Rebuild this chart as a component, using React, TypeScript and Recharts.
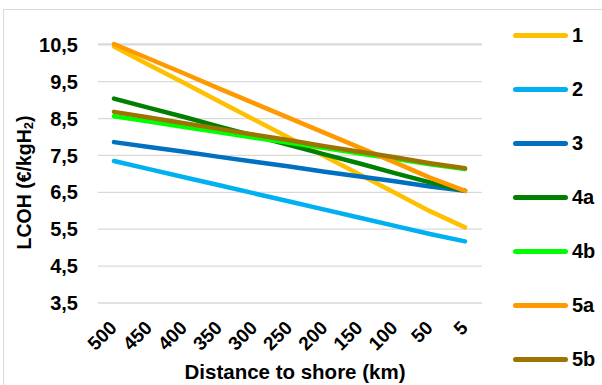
import { LineChart, Line, XAxis, YAxis, CartesianGrid, Label } from 'recharts';

// distance to shore in km, read left to right
const distances = ['500', '450', '400', '350', '300', '250', '200', '150', '100', '50', '5'];

// LCOH values (€/kgH2)
const case1 = [10.45, 9.95, 9.46, 8.96, 8.47, 7.97, 7.48, 6.98, 6.49, 5.99, 5.55];
const case2 = [7.35, 7.13, 6.91, 6.69, 6.47, 6.25, 6.03, 5.81, 5.59, 5.37, 5.17];
const case3 = [7.86, 7.73, 7.6, 7.46, 7.33, 7.2, 7.06, 6.93, 6.8, 6.66, 6.54];
const case4a = [9.04, 8.79, 8.54, 8.28, 8.03, 7.78, 7.53, 7.28, 7.02, 6.77, 6.54];
const case4b = [8.56, 8.42, 8.27, 8.13, 7.98, 7.84, 7.7, 7.55, 7.41, 7.26, 7.13];
const case5a = [10.52, 10.12, 9.72, 9.31, 8.91, 8.51, 8.11, 7.71, 7.31, 6.9, 6.54];
const case5b = [8.68, 8.53, 8.37, 8.22, 8.06, 7.91, 7.75, 7.6, 7.45, 7.29, 7.15];

const yTicks = [3.5, 4.5, 5.5, 6.5, 7.5, 8.5, 9.5, 10.5];

const series = [
  { key: 's1', name: '1', color: '#FFC000', values: case1 },
  { key: 's2', name: '2', color: '#00B0F0', values: case2 },
  { key: 's3', name: '3', color: '#0070C0', values: case3 },
  { key: 's4a', name: '4a', color: '#008000', values: case4a },
  { key: 's4b', name: '4b', color: '#00FF00', values: case4b },
  { key: 's5a', name: '5a', color: '#FF9900', values: case5a },
  { key: 's5b', name: '5b', color: '#9C7400', values: case5b },
];

const data = distances.map((d, i) => {
  const row: Record<string, string | number> = { distance: d };
  series.forEach((s) => {
    row[s.key] = s.values[i];
  });
  return row;
});

const FONT = '"Liberation Sans", Arial, sans-serif';

function DistanceTick({ x, y, payload }: any) {
  return (
    <g transform={`translate(${x + 4},${y + 18})`}>
      <text textAnchor="end" transform="rotate(-45)" fontSize={19} fontWeight="bold" fill="#000">
        {payload.value}
      </text>
    </g>
  );
}

function YTitle({ viewBox }: any) {
  const cx = 24;
  const cy = viewBox.y + viewBox.height / 2 + 9;
  return (
    <text
      x={cx}
      y={cy}
      transform={`rotate(-90 ${cx} ${cy})`}
      textAnchor="middle"
      dominantBaseline="central"
      fontSize={19.5}
      fontWeight="bold"
      fill="#000"
    >
      LCOH (€/kgH
      <tspan fontSize={13} dy={4}>2</tspan>
      <tspan dy={-4}>)</tspan>
    </text>
  );
}

function XTitle({ viewBox }: any) {
  // baseline placed so the caps sit where the reference shows them
  return (
    <text
      x={viewBox.x + viewBox.width / 2 + 5}
      y={viewBox.y + 76}
      textAnchor="middle"
      fontSize={20.5}
      fontWeight="bold"
      fill="#000"
    >
      Distance to shore (km)
    </text>
  );
}

export default function App() {
  return (
    <div
      style={{
        position: 'absolute',
        left: 0,
        top: 0,
        width: 602,
        height: 385,
        overflow: 'hidden',
        background: '#fff',
        fontFamily: FONT,
      }}
    >
      <div
        style={{
          position: 'absolute',
          left: 3,
          top: 9,
          width: 640,
          height: 420,
          border: '1px solid #d9d9d9',
        }}
      />
      <div style={{ position: 'absolute', left: 0, top: 0 }}>
        <LineChart width={602} height={385} data={data} margin={{ top: 44, right: 120, bottom: 8, left: 0 }}>
          <CartesianGrid vertical={false} stroke="#d9d9d9" strokeWidth={1.3} />
          <XAxis
            dataKey="distance"
            height={74}
            axisLine={false}
            tickLine={false}
            padding={{ left: 16, right: 17 }}
            interval={0}
            tick={<DistanceTick />}
          >
            <Label content={<XTitle />} />
          </XAxis>
          <YAxis
            width={98}
            domain={[3.5, 10.5]}
            ticks={yTicks}
            axisLine={false}
            tickLine={false}
            tickMargin={14}
            tickFormatter={(v: number) => v.toFixed(1).replace('.', ',')}
            tick={{ fontSize: 20, fontWeight: 'bold', fill: '#000' }}
          >
            <Label content={<YTitle />} />
          </YAxis>
          {series.map((s) => (
            <Line
              key={s.key}
              type="linear"
              dataKey={s.key}
              name={s.name}
              stroke={s.color}
              strokeWidth={4.5}
              strokeLinecap="round"
              dot={false}
              activeDot={false}
              isAnimationActive={false}
            />
          ))}
        </LineChart>
      </div>
      {/* legend on the right */}
      {series.map((s, i) => (
        <div
          key={s.key}
          style={{
            position: 'absolute',
            left: 513,
            top: 35 + i * 54 - 12,
            height: 24,
            display: 'flex',
            alignItems: 'center',
          }}
        >
          <div style={{ width: 55, height: 5, borderRadius: 3, background: s.color }} />
          <span style={{ marginLeft: 4, fontSize: 20, fontWeight: 'bold', color: '#000' }}>{s.name}</span>
        </div>
      ))}
    </div>
  );
}
